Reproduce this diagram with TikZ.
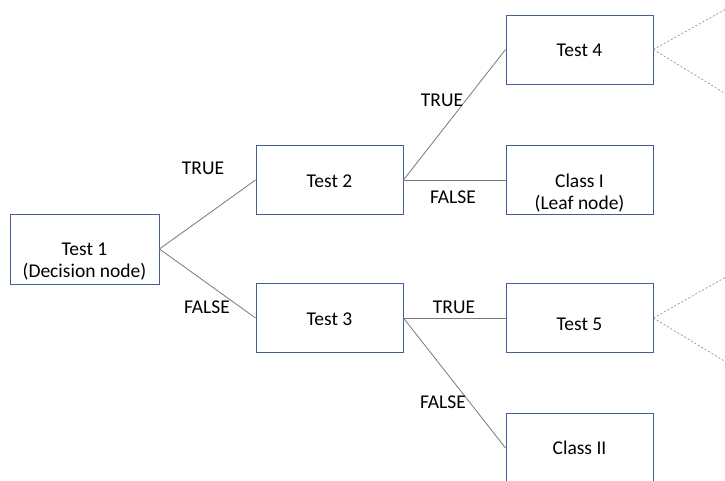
\documentclass[tikz,border=0pt]{standalone}
\usepackage{fontspec}
\setmainfont{Carlito}
\definecolor{boxedge}{RGB}{70,92,150}
\definecolor{wire}{RGB}{120,120,120}
\tikzset{
  treebox/.style={draw=boxedge, line width=0.9pt, fill=white, minimum width=147pt, minimum height=69pt, inner sep=0pt},
  txt/.style={font=\fontsize{19.5}{23}\selectfont, inner sep=0pt, align=center},
  branch/.style={draw=wire, line width=0.8pt},
  cont/.style={draw=wire!80, line width=0.7pt, dash pattern=on 2pt off 2pt},
}
\begin{document}
\begin{tikzpicture}[x=1pt, y=-1pt]
\useasboundingbox (0,0) rectangle (725,481);
\clip (0,0) rectangle (725,481);

% decision boxes
\node[treebox, minimum width=149pt, minimum height=70pt] (t1) at (84.5,249) {};
\node[treebox] (t2) at (329.5,180) {};
\node[treebox] (t3) at (329.5,318) {};
\node[treebox] (t4) at (579.5,49.5) {};
\node[treebox] (c1) at (579.5,180) {};
\node[treebox] (t5) at (579.5,318) {};
\node[treebox] (c2) at (579.5,448) {};

% box texts
\node[txt] (t1a) at (84.5,249) {Test 1};
\node[txt] (t1b) at (84.5,271.5) {(Decision node)};
\node[txt] (t2a) at (329.5,181) {Test 2};
\node[txt] (t3a) at (329.5,319) {Test 3};
\node[txt] (t4a) at (579.5,50.5) {Test 4};
\node[txt] (c1a) at (579.5,181) {Class I};
\node[txt] (c1b) at (579.5,204) {(Leaf node)};
\node[txt] (t5a) at (579.5,324) {Test 5};
\node[txt] (c2a) at (579.5,448) {Class II};

% branches
\draw[branch] (t1.east) -- (t2.west);
\draw[branch] (t1.east) -- (t3.west);
\draw[branch] (t2.east) -- (t4.west);
\draw[branch] (t2.east) -- (c1.west);
\draw[branch] (t3.east) -- (t5.west);
\draw[branch] (t3.east) -- (c2.west);

% branch labels
\node[txt] (l1) at (203,168) {TRUE};
\node[txt] (l2) at (207,307) {FALSE};
\node[txt] (l3) at (442,100) {TRUE};
\node[txt] (l4) at (453,197) {FALSE};
\node[txt] (l5) at (454,307) {TRUE};
\node[txt] (l6) at (443,402) {FALSE};

% subtrees continuing past the edge
\coordinate (e1) at (726,9);
\coordinate (e2) at (726,94);
\coordinate (e3) at (726,277);
\coordinate (e4) at (726,362);
\draw[cont] (t4.east) -- (e1);
\draw[cont] (t4.east) -- (e2);
\draw[cont] (t5.east) -- (e3);
\draw[cont] (t5.east) -- (e4);
\end{tikzpicture}
\end{document}
